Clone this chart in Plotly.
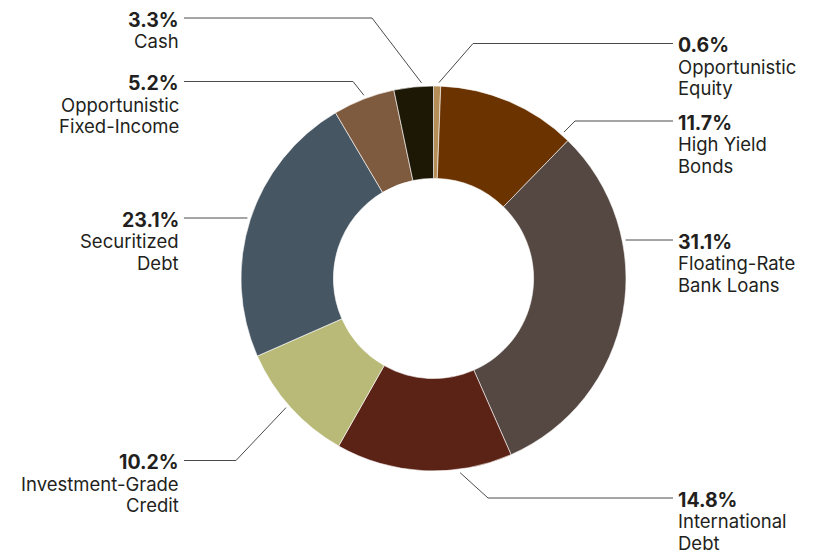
import math
import plotly.graph_objects as go

# ---- data ----
categories = ["Opportunistic<br>Equity", "High Yield<br>Bonds", "Floating-Rate<br>Bank Loans",
              "International<br>Debt", "Investment-Grade<br>Credit", "Securitized<br>Debt",
              "Opportunistic<br>Fixed-Income", "Cash"]
values = [0.6, 11.7, 31.1, 14.8, 10.2, 23.1, 5.2, 3.3]
colors = ["#B58D56", "#6A3300", "#554843", "#5B2216", "#B9BA78", "#465663", "#7E5A3E", "#1D1705"]

# ---- layout of labels (pixel space) ----
W, H = 817, 554
CX, CY, R = 433.5, 278.5, 192.5
# side, percent-line centre y, elbow x (None = straight), anchor angle (deg clockwise from top)
label_side = ["right", "right", "right", "right", "left", "left", "left", "left"]
label_y = [45.0, 122.5, 241.5, 499.5, 462.0, 219.5, 83.0, 19.5]
elbow_x = [473, 575, None, 488, 236, None, 353, 372]
anchor_deg = [1.6, 41.7, 78.5, 172.2, 228.8, -71.7, -20.8, -3.5]
TEXT_RIGHT_X = 180   # right edge of left-side labels
TEXT_LEFT_X = 677    # left edge of right-side labels
LINE_H = 21.5
FONT = "Inter, Lato, sans-serif"
TXT = "#231F20"

def px(x):
    return x / W

def py(y):
    return 1 - y / H

fig = go.Figure(go.Pie(
    labels=[c.replace("<br>", " ") for c in categories],
    values=values,
    sort=False,
    direction="clockwise",
    rotation=0,
    hole=0.52,
    marker=dict(colors=colors, line=dict(color="white", width=0.6)),
    textinfo="none",
    hoverinfo="label+percent",
    showlegend=False,
    domain=dict(x=[px(CX - R), px(CX + R)], y=[py(CY + R), py(CY - R)]),
))

annotations = []
shapes = []
for cat, v, side, ly, ex, ang in zip(categories, values, label_side, label_y, elbow_x, anchor_deg):
    lines = cat.split("<br>")
    if side == "left":
        tx, xanchor = TEXT_RIGHT_X, "right"
    else:
        tx, xanchor = TEXT_LEFT_X, "left"
    annotations.append(dict(x=px(tx), y=py(ly), xref="paper", yref="paper",
                            text=f"<b>{v:.1f}%</b>", showarrow=False, borderpad=0,
                            xanchor=xanchor, yanchor="middle",
                            font=dict(family=FONT, size=19.5, color=TXT)))
    for i, ln in enumerate(lines):
        annotations.append(dict(x=px(tx), y=py(ly + LINE_H * (i + 1)), xref="paper", yref="paper",
                                text=ln, showarrow=False, borderpad=0,
                                xanchor=xanchor, yanchor="middle",
                                font=dict(family=FONT, size=18.5, color=TXT)))
    # leader line
    rad = math.radians(ang)
    ar = R + 3.5
    ax = CX + ar * math.sin(rad)
    ay = CY - ar * math.cos(rad)
    hy = ly - 1.5
    tend = tx + 4 if side == "left" else tx - 4
    if ex is None:
        pts = [(ax, hy), (tend, hy)]
    else:
        pts = [(ax, ay), (ex, hy), (tend, hy)]
    for (x0, y0), (x1, y1) in zip(pts[:-1], pts[1:]):
        shapes.append(dict(type="line", xref="paper", yref="paper",
                           x0=px(x0), y0=py(y0), x1=px(x1), y1=py(y1),
                           line=dict(color="#4A4A4A", width=1)))

fig.update_layout(
    width=W, height=H,
    margin=dict(l=0, r=0, t=0, b=0),
    paper_bgcolor="white",
    plot_bgcolor="white",
    annotations=annotations,
    shapes=shapes,
)

fig.write_html("out.html", config={"displayModeBar": False},
               post_script="document.body.style.margin='0px';document.body.style.overflow='hidden';")
